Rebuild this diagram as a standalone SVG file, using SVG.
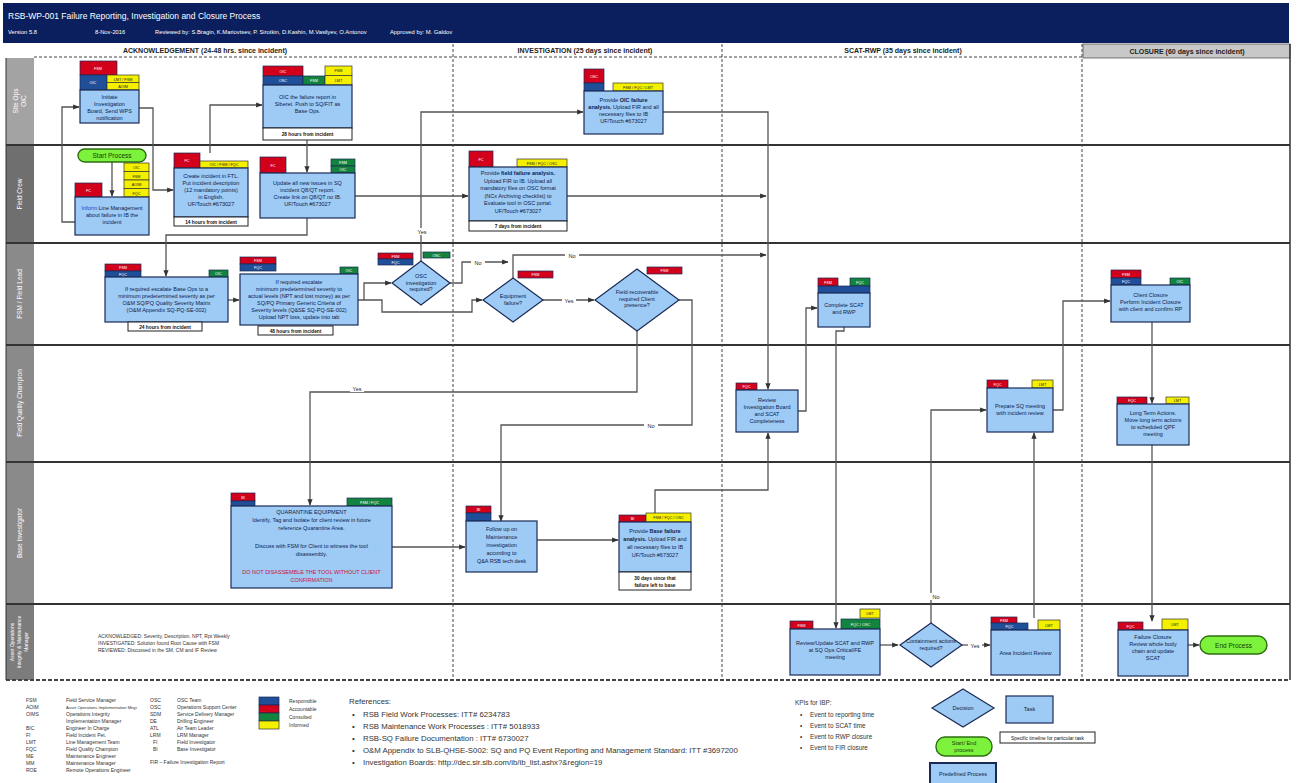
<svg xmlns="http://www.w3.org/2000/svg" width="1297" height="783" viewBox="0 0 1297 783">
<defs>
<marker id="arr" viewBox="0 0 10 10" refX="9" refY="5" markerWidth="5" markerHeight="5" orient="auto"><path d="M0,1 L10,5 L0,9 z" fill="#333"/></marker>
<style>
text{font-family:"Liberation Sans",Arial,sans-serif}
.body{fill:#9dcbf5;stroke:#1b2a55;stroke-width:1.2}
.dia{fill:#9dcbf5;stroke:#1b2a55;stroke-width:1.2}
.tr{fill:#d3001c;stroke:#1b2a55;stroke-width:.7}
.tb{fill:#1f4f99;stroke:#1b2a55;stroke-width:.7}
.tg{fill:#12843e;stroke:#1b2a55;stroke-width:.7}
.ty{fill:#f4f000;stroke:#333;stroke-width:.7}
.foot{fill:#fff;stroke:#222;stroke-width:1}
.t{font-size:5.5px;fill:#10204a;text-anchor:middle}
.b{font-weight:bold}
.ft{font-size:4.8px;font-weight:bold;fill:#111;text-anchor:middle}
.tag{font-size:3.8px;fill:#fff;text-anchor:middle}
.tagk{font-size:3.8px;fill:#222;text-anchor:middle}
.conn{fill:none;stroke:#555;stroke-width:1.3;marker-end:url(#arr)}
.lbl{font-size:5.5px;fill:#222;text-anchor:middle}
.lane{stroke:#333;stroke-width:2}
.phase{stroke:#444;stroke-width:1;stroke-dasharray:3,2}
.lanelbl{font-size:6.5px;fill:#fff;text-anchor:middle}
.lanelbl.sm{font-size:5px}
.pill{fill:#7cf23c;stroke:#2f6d12;stroke-width:1.4}
.leg{font-size:5px;fill:#333}
.leg.sm{font-size:4.1px}
.ref{font-size:7.8px;fill:#333}
.kpi{font-size:6.4px;fill:#333}
.hdr{font-size:7px;font-weight:bold;fill:#222;text-anchor:middle}
</style>
</defs>
<rect width="1297" height="783" fill="#fff"/>

<!-- title band -->
<g id="title">
<rect x="3" y="3" width="1286" height="40" fill="#0b1f5e"/>
<text x="8" y="19" font-size="8.5" fill="#fff">RSB-WP-001 Failure Reporting, Investigation and Closure Process</text>
<text x="8" y="34" font-size="5.8" fill="#fff">Version 5.8</text>
<text x="95" y="34" font-size="5.8" fill="#fff">8-Nov-2016</text>
<text x="155" y="34" font-size="5.8" fill="#fff">Reviewed by: S.Bragin, K.Mariovtsev, P. Sirotkin, D.Kashin, M.Vasilyev, O.Antonov</text>
<text x="390" y="34" font-size="5.8" fill="#fff">Approved by: M. Galdov</text>
</g>

<!-- phase header row -->
<g id="phases">
<rect x="1083" y="44" width="207" height="14" fill="#c8c8c8" stroke="#555" stroke-width=".8"/>
<text class="hdr" x="205" y="53">ACKNOWLEDGEMENT (24-48 hrs. since incident)</text>
<text class="hdr" x="585" y="53">INVESTIGATION (25 days since incident)</text>
<text class="hdr" x="903" y="53">SCAT-RWP (35 days since incident)</text>
<text class="hdr" x="1187" y="54">CLOSURE (60 days since incident)</text>
<line class="phase" x1="34" y1="57" x2="1083" y2="57"/>
</g>

<!-- swimlanes -->
<g id="lanes">
<rect x="6" y="58" width="28" height="87" fill="#a3a3a3"/>
<rect x="6" y="145" width="28" height="98" fill="#6f6f6f"/>
<rect x="6" y="243" width="28" height="102" fill="#8a8a8a"/>
<rect x="6" y="345" width="28" height="117" fill="#8a8a8a"/>
<rect x="6" y="462" width="28" height="142" fill="#8a8a8a"/>
<rect x="6" y="604" width="28" height="76" fill="#7c7c7c"/>
<line class="lane" x1="6" y1="145" x2="1290" y2="145"/>
<line class="lane" x1="6" y1="243" x2="1290" y2="243"/>
<line class="lane" x1="6" y1="345" x2="1290" y2="345"/>
<line class="lane" x1="6" y1="462" x2="1290" y2="462"/>
<line class="lane" x1="6" y1="604" x2="1290" y2="604"/>
<line x1="6" y1="680" x2="1290" y2="680" stroke="#444" stroke-width="2" stroke-dasharray="4,2"/>
<line x1="1290" y1="44" x2="1290" y2="680" stroke="#333" stroke-width="1.5"/>
<line x1="6" y1="58" x2="6" y2="680" stroke="#333" stroke-width="1"/>
<line class="phase" x1="453" y1="44" x2="453" y2="680"/>
<line class="phase" x1="722" y1="44" x2="722" y2="680"/>
<line class="phase" x1="1082" y1="44" x2="1082" y2="680"/>
<text class="lanelbl" transform="translate(18,101) rotate(-90)">Site Ops</text>
<text class="lanelbl" transform="translate(26,101) rotate(-90)">OIC</text>
<text class="lanelbl" transform="translate(22,194) rotate(-90)">Field Crew</text>
<text class="lanelbl" transform="translate(22,294) rotate(-90)">FSM / Field Lead</text>
<text class="lanelbl" transform="translate(22,403) rotate(-90)">Field Quality Champion</text>
<text class="lanelbl" transform="translate(22,533) rotate(-90)">Base Investigator</text>
<text class="lanelbl sm" transform="translate(14,642) rotate(-90)">Asset Operations</text>
<text class="lanelbl sm" transform="translate(21,642) rotate(-90)">Integrity &amp; Maintenance</text>
<text class="lanelbl sm" transform="translate(28,642) rotate(-90)">Manager</text>
</g>

<!-- connectors -->
<g id="connectors">
<path class="conn" d="M112,162 V196"/>
<path class="conn" d="M75,222 H62 V107 H79"/>
<path class="conn" d="M139,108 H153 V190 H173"/>
<path class="conn" d="M210,153 V105 H262"/>
<path class="conn" d="M307,140 V172"/>
<path class="conn" d="M307,218 V235 H166 V276"/>
<path class="conn" d="M355,196 H468"/>
<path class="conn" d="M567,196 H766"/>
<path class="conn" d="M663,112 H768 V389"/>
<path class="conn" d="M421,261 V112 H583"/>
<path class="conn" d="M228,300 H239"/>
<path class="conn" d="M358,300 H364 V283 H391"/>
<path class="conn" d="M364,300 H382 V312 H472 V300 H482"/>
<path class="conn" d="M450,283 H462 V262 H508"/>
<path class="conn" d="M513,278 V255 H766"/>
<path class="conn" d="M543,300 H594"/>
<path class="conn" d="M679,300 H692 V425 H501 V521"/>
<path class="conn" d="M637,331 V392 H310 V505"/>
<path class="conn" d="M391,547 H465"/>
<path class="conn" d="M537,540 H618"/>
<path class="conn" d="M655,513 V490 H768 V433"/>
<path class="conn" d="M798,411 H806 V308 H817"/>
<path class="conn" d="M844,327 V331 H836 V628"/>
<path class="conn" d="M880,645 H898"/>
<path class="conn" d="M962,645 H990"/>
<path class="conn" d="M931,623 V410 H986"/>
<path class="conn" d="M1034,618 V433"/>
<path class="conn" d="M1053,410 H1063 V301 H1110"/>
<path class="conn" d="M1152,322 V403"/>
<path class="conn" d="M1152,445 V621"/>
<path class="conn" d="M1188,645 H1199"/>
<g>
<rect x="415" y="228" width="14" height="7" fill="#fff"/><text class="lbl" x="422" y="234">Yes</text>
<rect x="471" y="259" width="14" height="7" fill="#fff"/><text class="lbl" x="478" y="265">No</text>
<rect x="565" y="252" width="14" height="7" fill="#fff"/><text class="lbl" x="572" y="258">No</text>
<rect x="562" y="297" width="14" height="7" fill="#fff"/><text class="lbl" x="569" y="303">Yes</text>
<rect x="644" y="422" width="14" height="7" fill="#fff"/><text class="lbl" x="651" y="428">No</text>
<rect x="350" y="385" width="14" height="7" fill="#fff"/><text class="lbl" x="357" y="391">Yes</text>
<rect x="968" y="642" width="14" height="7" fill="#fff"/><text class="lbl" x="975" y="648">Yes</text>
<rect x="929" y="593" width="14" height="7" fill="#fff"/><text class="lbl" x="936" y="599">No</text>
</g>
</g>

<!-- nodes -->
<g id="n-initiate-ib">
<rect class="tr" x="80" y="61" width="37" height="14"/><text class="tag" x="98" y="70">FSM</text>
<rect class="tb" x="80" y="75" width="27" height="15"/><text class="tag" x="93" y="84">OIC</text>
<rect class="ty" x="107" y="75" width="32" height="7.5"/><rect class="ty" x="107" y="82.5" width="32" height="7.5"/>
<text class="tagk" x="123" y="80.5">LMT / FSM</text><text class="tagk" x="123" y="88">AOIM</text>
<rect class="body" x="80" y="90" width="59" height="33"/>
<text class="t" x="109.5" y="99">Initiate</text><text class="t" x="109.5" y="106">Investigation</text>
<text class="t" x="109.5" y="113">Board, Send WPS</text><text class="t" x="109.5" y="120">notification</text>
</g>

<g id="n-oic-report">
<rect class="tr" x="263" y="66" width="40" height="10"/><text class="tag" x="283" y="72.5">OIC</text>
<rect class="tb" x="263" y="76" width="40" height="9"/><text class="tag" x="283" y="82">OSC</text>
<rect class="tg" x="303" y="76" width="22" height="9"/><text class="tag" x="314" y="82">FSM</text>
<rect class="ty" x="325" y="66" width="27" height="9.5"/><rect class="ty" x="325" y="75.5" width="27" height="9.5"/>
<text class="tagk" x="338.5" y="72">FSM</text><text class="tagk" x="338.5" y="81.5">LMT</text>
<rect class="body" x="263" y="85" width="89" height="43"/>
<text class="t" x="307.5" y="99">OIC the failure report in</text>
<text class="t" x="307.5" y="106">Siberet. Push to SQ/FIT as</text>
<text class="t" x="307.5" y="113">Base Ops.</text>
<rect class="foot" x="263" y="128" width="89" height="12"/>
<text class="ft" x="307.5" y="136">28 hours from incident</text>
</g>

<g id="n-oic-analysis">
<rect class="tr" x="584" y="69" width="20" height="14"/><text class="tag" x="594" y="78">OSC</text>
<rect class="tb" x="584" y="83" width="20" height="8"/>
<rect class="ty" x="613" y="83" width="50" height="8"/><text class="tagk" x="638" y="88.5">FSM / FQC / LMT</text>
<rect class="body" x="584" y="91" width="79" height="43"/>
<text class="t" x="623.5" y="102">Provide <tspan class="b">OIC failure</tspan></text>
<text class="t" x="623.5" y="109"><tspan class="b">analysis.</tspan> Upload FIR and all</text>
<text class="t" x="623.5" y="116">necessary files to IB</text>
<text class="t" x="623.5" y="123">UF/Touch #673027</text>
</g>

<g id="n-start">
<rect class="pill" x="78" y="149" width="68" height="13" rx="6.5"/>
<text x="112" y="158" font-size="6.5" fill="#1a3a0a" text-anchor="middle">Start Process</text>
</g>

<g id="n-inform-line">
<rect class="tr" x="75" y="183" width="27" height="14"/><text class="tag" x="88.5" y="192">FC</text>
<rect class="ty" x="124" y="163" width="25" height="8.5"/><rect class="ty" x="124" y="171.5" width="25" height="8.5"/>
<rect class="ty" x="124" y="180" width="25" height="8.5"/><rect class="ty" x="124" y="188.5" width="25" height="8.5"/>
<text class="tagk" x="136.5" y="169">OIC</text><text class="tagk" x="136.5" y="177.5">FSM</text>
<text class="tagk" x="136.5" y="186">AOIM</text><text class="tagk" x="136.5" y="194.5">FQC</text>
<rect class="body" x="75" y="197" width="74" height="38"/>
<text class="t" x="112" y="210"><tspan fill="#1b3fd0">Inform</tspan> Line Management</text>
<text class="t" x="112" y="217">about failure in IB the</text>
<text class="t" x="112" y="224">incident</text>
</g>

<g id="n-create-incident">
<rect class="tr" x="174" y="153" width="26" height="15"/><text class="tag" x="187" y="162">FC</text>
<rect class="ty" x="200" y="161" width="48" height="7"/><text class="tagk" x="224" y="166.3">OIC / FSM / FQC</text>
<rect class="body" x="174" y="168" width="74" height="49"/>
<text class="t" x="211" y="178">Create incident in FTL.</text>
<text class="t" x="211" y="185">Put incident description</text>
<text class="t" x="211" y="192">(12 mandatory points)</text>
<text class="t" x="211" y="199">in English.</text>
<text class="t" x="211" y="206">UF/Touch #673027</text>
<rect class="foot" x="174" y="217" width="74" height="9"/>
<text class="ft" x="211" y="223.5">14 hours from incident</text>
</g>

<g id="n-update-sq">
<rect class="tr" x="260" y="157" width="26" height="16"/><text class="tag" x="273" y="166.5">FC</text>
<rect class="tg" x="331" y="159" width="24" height="7"/><rect class="tg" x="331" y="166" width="24" height="7"/>
<text class="tag" x="343" y="164">FSM</text><text class="tag" x="343" y="171">OIC</text>
<rect class="body" x="260" y="173" width="95" height="45"/>
<text class="t" x="307.5" y="185">Update all new issues in SQ</text>
<text class="t" x="307.5" y="192">incident Q8/QT report.</text>
<text class="t" x="307.5" y="199">Create link on Q8/QT no IB.</text>
<text class="t" x="307.5" y="206">UF/Touch #673027</text>
</g>

<g id="n-field-analysis">
<rect class="tr" x="469" y="151" width="24" height="16"/><text class="tag" x="481" y="160.5">FC</text>
<rect class="ty" x="517" y="159" width="50" height="8"/><text class="tagk" x="542" y="164.5">FSM / FQC / OSC</text>
<rect class="body" x="469" y="167" width="98" height="54"/>
<text class="t" x="518" y="175">Provide <tspan class="b">field failure analysis.</tspan></text>
<text class="t" x="518" y="182.5">Upload FIR to IB. Upload all</text>
<text class="t" x="518" y="190">mandatory files on OSC format</text>
<text class="t" x="518" y="197.5">(NCx Archiving checklist) to</text>
<text class="t" x="518" y="205">Evaluate tool in OSC portal.</text>
<text class="t" x="518" y="212.5">UF/Touch #673027</text>
<rect class="foot" x="469" y="221" width="98" height="10"/>
<text class="ft" x="518" y="228">7 days from incident</text>
</g>

<g id="n-escalate-base">
<rect class="tr" x="105" y="264" width="36" height="7"/><text class="tag" x="123" y="269.3">FSM</text>
<rect class="tb" x="105" y="271" width="36" height="6"/><text class="tag" x="123" y="275.5">FQC</text>
<rect class="tg" x="209" y="270" width="19" height="7"/><text class="tag" x="218.5" y="275.3">OIC</text>
<rect class="body" x="105" y="277" width="123" height="45"/>
<text class="t" x="166.5" y="291">If required escalate Base Ops to a</text>
<text class="t" x="166.5" y="298">minimum predetermined severity as per</text>
<text class="t" x="166.5" y="305">O&amp;M SQ/PQ Quality Severity Matrix</text>
<text class="t" x="166.5" y="312">(O&amp;M Appendix SQ-PQ-SE-002)</text>
<rect class="foot" x="128" y="322" width="74" height="9"/>
<text class="ft" x="165" y="328.5">24 hours from incident</text>
</g>

<g id="n-escalate-severity">
<rect class="tr" x="240" y="257" width="36" height="7"/><text class="tag" x="258" y="262.3">FSM</text>
<rect class="tb" x="240" y="264" width="36" height="7"/><text class="tag" x="258" y="269.3">FQC</text>
<rect class="tg" x="340" y="267" width="18" height="7"/><text class="tag" x="349" y="272.3">OIC</text>
<rect class="body" x="240" y="274" width="118" height="51"/>
<text class="t" x="299" y="284">If required escalate</text>
<text class="t" x="299" y="291">minimum predetermined severity to</text>
<text class="t" x="299" y="298">actual levels (NPT and lost money) as per</text>
<text class="t" x="299" y="305">SQ/PQ Primary Generic Criteria of</text>
<text class="t" x="299" y="312">Severity levels (Q&amp;SE SQ-PQ-SE-002)</text>
<text class="t" x="299" y="319">Upload NPT loss, update into tab</text>
<rect class="foot" x="258" y="326" width="75" height="9"/>
<text class="ft" x="295.5" y="332.5">48 hours from incident</text>
</g>

<g id="d-osc-required">
<rect class="tr" x="378" y="253" width="35" height="6"/><rect class="tb" x="378" y="259" width="35" height="6"/>
<text class="tag" x="395.5" y="257.5">FSM</text><text class="tag" x="395.5" y="263.5">FQC</text>
<rect class="tg" x="423" y="252" width="27" height="6"/><text class="tag" x="436.5" y="256.5">OSC</text>
<path class="dia" d="M421,261 L450,283 L421,305 L392,283 z"/>
<text class="t" x="421" y="278">OSC</text><text class="t" x="421" y="284.5">investigation</text><text class="t" x="421" y="291">required?</text>
</g>

<g id="d-equipment-failure">
<rect class="tr" x="518" y="271" width="35" height="7"/><text class="tag" x="535.5" y="276.3">FSM</text>
<path class="dia" d="M513,278 L543,300 L513,322 L483,300 z"/>
<text class="t" x="513" y="298">Equipment</text><text class="t" x="513" y="305">failure?</text>
</g>

<g id="d-client-presence">
<rect class="tr" x="647" y="267" width="35" height="7"/><text class="tag" x="664.5" y="272.3">FSM</text>
<path class="dia" d="M637,269 L679,300 L637,331 L595,300 z"/>
<text class="t" x="637" y="294">Field-recoverable</text><text class="t" x="637" y="300.5">required Client</text><text class="t" x="637" y="307">presence?</text>
</g>

<g id="n-complete-scat">
<rect class="tr" x="818" y="278" width="20" height="8"/><text class="tag" x="828" y="283.5">FSM</text>
<rect class="tg" x="850" y="278" width="20" height="8"/><text class="tag" x="860" y="283.5">FQC</text>
<rect class="tb" x="818" y="286" width="52" height="7"/>
<rect class="body" x="818" y="293" width="52" height="34"/>
<text class="t" x="844" y="307">Complete SCAT</text><text class="t" x="844" y="314">and RWP</text>
</g>

<g id="n-client-closure">
<rect class="tr" x="1111" y="270" width="30" height="8"/><text class="tag" x="1126" y="275.5">FSM</text>
<rect class="tb" x="1111" y="278" width="30" height="7"/><text class="tag" x="1126" y="283">FQC</text>
<rect class="tg" x="1170" y="278" width="20" height="7"/><text class="tag" x="1180" y="283">OIC</text>
<rect class="body" x="1111" y="285" width="79" height="37"/>
<text class="t" x="1150.5" y="297">Client Closure</text>
<text class="t" x="1150.5" y="304">Perform Incident Closure</text>
<text class="t" x="1150.5" y="311">with client and confirm RP</text>
</g>

<g id="n-review-ib">
<rect class="tr" x="736" y="383" width="21" height="7"/><text class="tag" x="746.5" y="388.3">FQC</text>
<rect class="body" x="736" y="390" width="62" height="42"/>
<text class="t" x="767" y="402">Review</text><text class="t" x="767" y="409">Investigation Board</text>
<text class="t" x="767" y="416">and SCAT</text><text class="t" x="767" y="423">Completeness</text>
</g>

<g id="n-prepare-sq">
<rect class="tr" x="987" y="380" width="21" height="8"/><text class="tag" x="997.5" y="385.5">FQC</text>
<rect class="ty" x="1032" y="380" width="21" height="8"/><text class="tagk" x="1042.5" y="385.5">LMT</text>
<rect class="body" x="987" y="388" width="66" height="44"/>
<text class="t" x="1020" y="408">Prepare SQ meeting</text><text class="t" x="1020" y="415">with incident review</text>
</g>

<g id="n-long-term">
<rect class="tr" x="1117" y="397" width="30" height="7"/><text class="tag" x="1132" y="402.3">FQC</text>
<rect class="ty" x="1166" y="397" width="23" height="7"/><text class="tagk" x="1177.5" y="402.3">LMT</text>
<rect class="body" x="1117" y="404" width="72" height="41"/>
<text class="t" x="1153" y="415">Long Term Actions.</text><text class="t" x="1153" y="422">Move long term actions</text>
<text class="t" x="1153" y="429">to scheduled QPF</text><text class="t" x="1153" y="436">meeting</text>
</g>

<g id="n-quarantine">
<rect class="tr" x="231" y="493" width="24" height="8"/><rect class="tb" x="231" y="501" width="24" height="5"/>
<text class="tag" x="243" y="498.5">BI</text>
<rect class="tg" x="347" y="498" width="45" height="8"/><text class="tag" x="369.5" y="503.5">FSM / FQC</text>
<rect class="body" x="231" y="506" width="161" height="82"/>
<text class="t" x="311.5" y="514">QUARANTINE EQUIPMENT</text>
<text class="t" x="311.5" y="522">Identify, Tag and Isolate for client review in future</text>
<text class="t" x="311.5" y="530">reference Quarantine Area.</text>
<text class="t" x="311.5" y="548">Discuss with FSM for Client to witness the tool</text>
<text class="t" x="311.5" y="556">disassembly.</text>
<text class="t" x="311.5" y="574" style="fill:#d0103a">DO NOT DISASSEMBLE THE TOOL WITHOUT CLIENT</text>
<text class="t" x="311.5" y="582" style="fill:#d0103a">CONFIRMATION</text>
</g>

<g id="n-follow-up">
<rect class="tr" x="466" y="506" width="25" height="7"/><rect class="tb" x="466" y="513" width="25" height="8"/>
<text class="tag" x="478.5" y="511.3">BI</text>
<rect class="body" x="466" y="521" width="71" height="51"/>
<text class="t" x="501.5" y="531">Follow up on</text><text class="t" x="501.5" y="539">Maintenance</text>
<text class="t" x="501.5" y="547">investigation</text><text class="t" x="501.5" y="555">according to</text>
<text class="t" x="501.5" y="563">Q&amp;A RSB tech desk</text>
</g>

<g id="n-base-analysis">
<rect class="tr" x="619" y="515" width="27" height="7"/><text class="tag" x="632.5" y="520.3">BI</text>
<rect class="ty" x="646" y="513" width="45" height="9"/><text class="tagk" x="668.5" y="519.3">FSM / FQC / OSC</text>
<rect class="body" x="619" y="522" width="72" height="50"/>
<text class="t" x="655" y="533">Provide <tspan class="b">Base failure</tspan></text>
<text class="t" x="655" y="541"><tspan class="b">analysis.</tspan> Upload FIR and</text>
<text class="t" x="655" y="549">all necessary files to IB</text>
<text class="t" x="655" y="557">UF/Touch #673027</text>
<rect class="foot" x="619" y="572" width="72" height="18"/>
<text class="ft" x="655" y="579.5">30 days since that</text>
<text class="ft" x="655" y="586.5">failure left to base</text>
</g>

<g id="n-review-scat">
<rect class="ty" x="860" y="609" width="20" height="9"/><text class="tagk" x="870" y="615">LMT</text>
<rect class="tr" x="790" y="621" width="23" height="8"/><text class="tag" x="801.5" y="626.5">FSM</text>
<rect class="tg" x="841" y="619" width="39" height="10"/><text class="tag" x="860.5" y="625.5">FQC / OSC</text>
<rect class="body" x="790" y="629" width="90" height="46"/>
<text class="t" x="835" y="645">Review/Update SCAT and RWP</text>
<text class="t" x="835" y="652">at SQ Ops Critical/FE</text>
<text class="t" x="835" y="659">meeting</text>
</g>

<g id="d-containment">
<path class="dia" d="M931,623 L962,645 L931,667 L900,645 z"/>
<text class="t" x="931" y="643">Containment actions</text><text class="t" x="931" y="650">required?</text>
</g>

<g id="n-area-review">
<rect class="tr" x="991" y="617" width="26" height="6"/><rect class="tb" x="991" y="623" width="37" height="7"/>
<text class="tag" x="1004" y="621.5">FSM</text><text class="tag" x="1009.5" y="628.3">FQC</text>
<rect class="ty" x="1038" y="620" width="22" height="10"/><text class="tagk" x="1049" y="626.5">LMT</text>
<rect class="body" x="991" y="630" width="69" height="45"/>
<text class="t" x="1025.5" y="655">Area Incident Review</text>
</g>

<g id="n-failure-closure">
<rect class="tr" x="1118" y="622" width="25" height="8"/><text class="tag" x="1130.5" y="627.5">FQC</text>
<rect class="ty" x="1162" y="619" width="26" height="11"/><text class="tagk" x="1175" y="626">LMT</text>
<rect class="body" x="1118" y="630" width="70" height="46"/>
<text class="t" x="1153" y="639">Failure Closure</text><text class="t" x="1153" y="646">Review whole body</text>
<text class="t" x="1153" y="653">chain and update</text><text class="t" x="1153" y="660">SCAT</text>
</g>

<g id="n-end">
<rect class="pill" x="1200" y="636" width="67" height="18" rx="9"/>
<text x="1233.5" y="647.5" font-size="6.5" fill="#1a3a0a" text-anchor="middle">End Process</text>
</g>

<g id="status-notes">
<text class="leg" x="98" y="638">ACKNOWLEDGED: Severity, Description, NPT, Rpt Weekly</text>
<text class="leg" x="98" y="645">INVESTIGATED: Solution found Root Cause with FSM</text>
<text class="leg" x="98" y="652">REVIEWED: Discussed in the SM, CM and IF Review</text>
</g>

<!-- legend -->
<g id="abbreviations">
<text class="leg" x="26" y="702">FSM</text><text class="leg" x="66" y="702">Field Service Manager</text>
<text class="leg" x="26" y="709">AOIM</text><text class="leg sm" x="66" y="709">Asset Operations Implementation Mngr</text>
<text class="leg" x="26" y="716">OIMS</text><text class="leg" x="66" y="716">Operations Integrity</text>
<text class="leg" x="66" y="723">Implementation Manager</text>
<text class="leg" x="26" y="730">BIC</text><text class="leg" x="66" y="730">Engineer In Charge</text>
<text class="leg" x="26" y="737">FI</text><text class="leg" x="66" y="737">Field Incident Pet.</text>
<text class="leg" x="26" y="744">LMT</text><text class="leg" x="66" y="744">Line Management Team</text>
<text class="leg" x="26" y="751">FQC</text><text class="leg" x="66" y="751">Field Quality Champion</text>
<text class="leg" x="26" y="758">ME</text><text class="leg" x="66" y="758">Maintenance Engineer</text>
<text class="leg" x="26" y="765">MM</text><text class="leg" x="66" y="765">Maintenance Manager</text>
<text class="leg" x="26" y="772">ROE</text><text class="leg" x="66" y="772">Remote Operations Engineer</text>
<text class="leg" x="150" y="702">OSC</text><text class="leg" x="177" y="702">OSC Team</text>
<text class="leg" x="150" y="709">OSC</text><text class="leg" x="177" y="709">Operations Support Center</text>
<text class="leg" x="150" y="716">SDM</text><text class="leg" x="177" y="716">Service Delivery Manager</text>
<text class="leg" x="150" y="723">DE</text><text class="leg" x="177" y="723">Drilling Engineer</text>
<text class="leg" x="150" y="730">ATL</text><text class="leg" x="177" y="730">Air Team Leader</text>
<text class="leg" x="150" y="737">LRM</text><text class="leg" x="177" y="737">LRM Manager</text>
<text class="leg" x="153" y="744">FI</text><text class="leg" x="177" y="744">Field Investigator</text>
<text class="leg" x="153" y="751">BI</text><text class="leg" x="177" y="751">Base Investigator</text>
<text class="leg" x="150" y="764">FIR – Failure Investigation Report</text>
</g>

<g id="raci-legend">
<rect class="tb" x="259" y="697" width="20" height="8"/>
<rect class="tr" x="259" y="705" width="20" height="8"/>
<rect class="tg" x="259" y="713" width="20" height="8"/>
<rect class="ty" x="259" y="721" width="20" height="8"/>
<text class="leg" x="289" y="703">Responsible</text>
<text class="leg" x="289" y="711">Accountable</text>
<text class="leg" x="289" y="719">Consulted</text>
<text class="leg" x="289" y="727">Informed</text>
</g>

<g id="references">
<text class="ref" x="349" y="704">References:</text>
<text class="ref" x="352" y="717">•</text><text class="ref" x="363" y="717">RSB Field Work Processes: ITT# 6234783</text>
<text class="ref" x="352" y="729">•</text><text class="ref" x="363" y="729">RSB Maintenance Work Processes : ITT# 5018933</text>
<text class="ref" x="352" y="741">•</text><text class="ref" x="363" y="741">RSB-SQ Failure Documentation : ITT# 6730027</text>
<text class="ref" x="352" y="753">•</text><text class="ref" x="363" y="753">O&amp;M Appendix to SLB-QHSE-S002: SQ and PQ Event Reporting and Management Standard: ITT #3697200</text>
<text class="ref" x="352" y="765">•</text><text class="ref" x="363" y="765">Investigation Boards: http://dec.sir.slb.com/ib/ib_list.ashx?&amp;region=19</text>
</g>

<g id="kpis">
<text class="kpi" x="795" y="705">KPIs for IBP:</text>
<text class="kpi" x="800" y="717">•</text><text class="kpi" x="810" y="717">Event to reporting time</text>
<text class="kpi" x="800" y="728">•</text><text class="kpi" x="810" y="728">Event to SCAT time</text>
<text class="kpi" x="800" y="739">•</text><text class="kpi" x="810" y="739">Event to RWP closure</text>
<text class="kpi" x="800" y="750">•</text><text class="kpi" x="810" y="750">Event to FIR closure</text>
</g>

<g id="shape-legend">
<path class="dia" d="M963,689 L994,708 L963,727 L932,708 z"/>
<text class="t" x="963" y="710">Decision</text>
<rect class="body" x="1006" y="696" width="47" height="27"/>
<text class="t" x="1029.5" y="711">Task</text>
<rect class="foot" x="1000" y="732" width="95" height="11"/>
<text class="ft" x="1047.5" y="739.5" style="font-weight:normal">Specific timeline for particular task</text>
<rect class="pill" x="936" y="737" width="56" height="19" rx="9"/>
<text class="t" x="964" y="745" style="fill:#1a3a0a">Start/ End</text>
<text class="t" x="964" y="752" style="fill:#1a3a0a">process</text>
<rect class="body" x="930" y="763" width="66" height="22" style="stroke-width:2"/>
<text class="t" x="963" y="776">Predefined Process</text>
</g>
</svg>
